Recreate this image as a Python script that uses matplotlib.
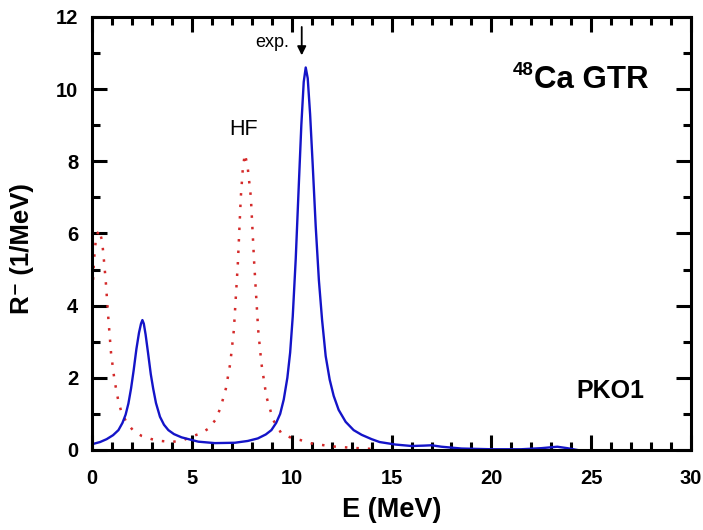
import matplotlib
matplotlib.use("Agg")
import matplotlib.pyplot as plt
from matplotlib.ticker import MultipleLocator

plt.rcParams['font.family'] = ['Liberation Sans', 'DejaVu Sans']

# PKO1 strength (blue solid)
e_pko1 = [0.0, 0.4, 0.73, 1.05, 1.32, 1.52, 1.68, 1.82, 1.95, 2.08, 2.22,
          2.35, 2.45, 2.52, 2.59, 2.68, 2.8, 2.94, 3.06, 3.2, 3.4, 3.6, 3.82,
          4.1, 4.48, 5.32, 6.15, 7.15, 7.8, 8.3, 8.7, 8.98, 9.22, 9.42, 9.6,
          9.78, 9.92, 10.05, 10.2, 10.35, 10.48, 10.6, 10.7, 10.8, 10.92,
          11.05, 11.2, 11.36, 11.52, 11.7, 11.9, 12.1, 12.35, 12.7, 13.1,
          13.5, 14.0, 14.4, 15.2, 16.0, 16.6, 17.0, 17.5, 18.5, 20.0, 21.5,
          22.5, 23.3, 23.8, 24.3]
r_pko1 = [0.16, 0.22, 0.3, 0.41, 0.55, 0.75, 0.98, 1.29, 1.7, 2.2, 2.8,
          3.25, 3.5, 3.6, 3.5, 3.2, 2.7, 2.1, 1.7, 1.3, 0.92, 0.7, 0.55,
          0.44, 0.35, 0.23, 0.19, 0.2, 0.25, 0.32, 0.43, 0.55, 0.75, 1.0, 1.4,
          2.0, 2.7, 3.7, 5.3, 7.3, 9.0, 10.2, 10.6, 10.3, 9.3,
          7.9, 6.2, 4.7, 3.6, 2.6, 1.95, 1.5, 1.11, 0.78, 0.55,
          0.42, 0.3, 0.22, 0.15, 0.11, 0.12, 0.13, 0.09, 0.04, 0.02, 0.02,
          0.05, 0.09, 0.05, 0.0]

# HF strength (red dotted)
e_hf = [0.02, 0.1, 0.2, 0.35, 0.5, 0.57, 0.68, 0.82, 0.95, 1.12, 1.32, 1.48,
        1.73, 2.07, 2.48, 2.98, 3.45, 4.0, 4.6, 5.07, 5.45, 5.85, 6.2, 6.45,
        6.7, 6.92, 7.1, 7.3, 7.45, 7.55, 7.65, 7.78, 7.95, 8.12, 8.32, 8.48,
        8.73, 9.07, 9.48, 10.0, 10.4, 11.0, 12.0, 13.0, 14.0]
r_hf = [4.4, 5.3, 5.9, 6.1, 5.8, 5.4, 4.71, 3.6, 2.68, 1.94, 1.34, 1.03,
        0.76, 0.53, 0.39, 0.3, 0.25, 0.22, 0.28, 0.39, 0.46, 0.6, 0.85, 1.2,
        1.7, 2.4, 3.32, 5.17, 7.02, 7.8, 8.2, 7.9, 7.02, 5.17, 3.32, 2.4,
        1.48, 0.83, 0.46, 0.33, 0.28, 0.18, 0.1, 0.06, 0.03]

fig = plt.figure(figsize=(7.03, 5.30), dpi=100)
ax = fig.add_axes([0.131, 0.151, 0.852, 0.817])

ax.plot(e_hf, r_hf, color='#d42a2a', lw=1.8, linestyle=(0, (1, 3.6)))
ax.plot(e_pko1, r_pko1, color='#1414c8', lw=1.7)

ax.set_xlim(0, 30)
ax.set_ylim(0, 12)
ax.xaxis.set_major_locator(MultipleLocator(5))
ax.xaxis.set_minor_locator(MultipleLocator(1))
ax.yaxis.set_major_locator(MultipleLocator(2))
ax.yaxis.set_minor_locator(MultipleLocator(1))
ax.tick_params(which='both', direction='in', top=True, right=True, width=2.2)
ax.tick_params(which='major', length=11, labelsize=14.5)
ax.tick_params(which='minor', length=5.5)
ax.tick_params(axis='x', which='major', pad=14)
ax.tick_params(axis='y', which='major', pad=10)
for lab in ax.get_xticklabels() + ax.get_yticklabels():
    lab.set_fontweight('bold')
for sp in ax.spines.values():
    sp.set_linewidth(2.2)

ax.set_xlabel('E (MeV)', fontsize=19.5, fontweight='bold')
ax.set_ylabel('R\u207b (1/MeV)', fontsize=18.5, fontweight='bold')
ax.xaxis.set_label_coords(0.5, -0.108)
ax.yaxis.set_label_coords(-0.097, 0.464)

ax.text(7.58, 8.88, 'HF', fontsize=15.5, ha='center', va='center')
ax.text(9.0, 11.3, 'exp.', fontsize=13, ha='center', va='center')
ax.annotate('', xy=(10.5, 10.86), xytext=(10.5, 11.8),
            arrowprops=dict(arrowstyle='-|>', color='black', lw=1.3,
                            mutation_scale=13))
ax.text(22.15, 10.03, 'Ca GTR', fontsize=22.5, fontweight='bold',
        ha='left', va='baseline')
ax.text(22.1, 10.39, '48', fontsize=13.5, fontweight='bold',
        ha='right', va='baseline')
ax.text(24.25, 1.44, 'PKO1', fontsize=18, fontweight='bold',
        ha='left', va='baseline')

fig.savefig('out.png', dpi=100)
